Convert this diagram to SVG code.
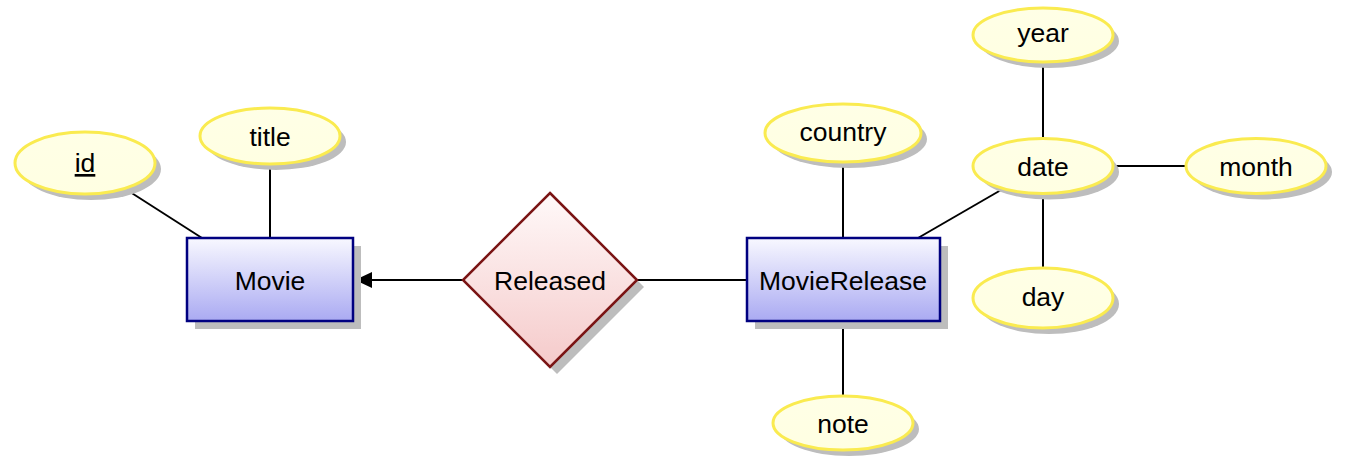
<svg xmlns="http://www.w3.org/2000/svg" width="1368" height="474" viewBox="0 0 1368 474">
<defs>
<linearGradient id="gEnt" x1="0" y1="0" x2="0" y2="1"><stop offset="0" stop-color="#F8F8FF"/><stop offset="1" stop-color="#AAAAF2"/></linearGradient>
<linearGradient id="gRel" x1="0" y1="0" x2="0" y2="1"><stop offset="0" stop-color="#FFF9F9"/><stop offset="1" stop-color="#F5CACA"/></linearGradient>
<linearGradient id="gAtt" x1="0" y1="0" x2="0" y2="1"><stop offset="0" stop-color="#FFFFE6"/><stop offset="1" stop-color="#FFFFE2"/></linearGradient>
<marker id="arr" viewBox="0 0 17 16" refX="17" refY="8" markerWidth="17" markerHeight="16" markerUnits="userSpaceOnUse" orient="auto"><path d="M0,0 L17,8 L0,16 Z" fill="#000"/></marker>
</defs>
<style>
.sh{fill:#BDBDBD}
.ent{fill:url(#gEnt);stroke:#000080;stroke-width:2.5}
.rel{fill:url(#gRel);stroke:#7A1414;stroke-width:2.5}
.att{fill:url(#gAtt);stroke:#FAEB50;stroke-width:3}
.t{font-family:"Liberation Sans",Arial,Helvetica,sans-serif;font-size:26.5px;fill:#000;text-anchor:middle}
.c line{stroke:#000;stroke-width:2}
</style>
<rect width="1368" height="474" fill="#fff"/>
<g class="c" id="connectors">
<line x1="127" y1="190" x2="202" y2="238"/>
<line x1="270" y1="164" x2="270" y2="238"/>
<line x1="463" y1="280" x2="355" y2="280" marker-end="url(#arr)"/>
<line x1="637" y1="280" x2="747" y2="280"/>
<line x1="843" y1="162" x2="843" y2="238"/>
<line x1="843" y1="322" x2="843" y2="396"/>
<line x1="1001" y1="190" x2="918" y2="238"/>
<line x1="1043" y1="63" x2="1043" y2="138"/>
<line x1="1113" y1="166" x2="1186" y2="166"/>
<line x1="1043" y1="194" x2="1043" y2="268"/>
</g>
<g id="movie">
<rect class="sh" x="195" y="246" width="166" height="83"/>
<rect class="ent" x="187" y="238" width="166" height="83"/>
<text class="t" x="270" y="290">Movie</text>
</g>
<g id="released">
<path class="sh" d="M557,200 L644,287 L557,374 L470,287 Z"/>
<path class="rel" d="M550,193 L637,280 L550,367 L463,280 Z"/>
<text class="t" x="550" y="290">Released</text>
</g>
<g id="movierelease">
<rect class="sh" x="755" y="246" width="193" height="83"/>
<rect class="ent" x="747" y="238" width="193" height="83"/>
<text class="t" x="843" y="290">MovieRelease</text>
</g>
<g id="attr-id">
<ellipse class="sh" cx="91" cy="169" rx="70" ry="31"/>
<ellipse class="att" cx="85" cy="163" rx="70" ry="31"/>
<text class="t" x="85" y="172" text-decoration="underline">id</text>
</g>
<g id="attr-title">
<ellipse class="sh" cx="276" cy="142" rx="70" ry="28"/>
<ellipse class="att" cx="270" cy="136" rx="70" ry="28"/>
<text class="t" x="270" y="146">title</text>
</g>
<g id="attr-country">
<ellipse class="sh" cx="849" cy="139" rx="78" ry="29"/>
<ellipse class="att" cx="843" cy="133" rx="78" ry="29"/>
<text class="t" x="843" y="141">country</text>
</g>
<g id="attr-note">
<ellipse class="sh" cx="849" cy="429" rx="70" ry="27"/>
<ellipse class="att" cx="843" cy="423" rx="70" ry="27"/>
<text class="t" x="843" y="433">note</text>
</g>
<g id="attr-year">
<ellipse class="sh" cx="1049" cy="41" rx="70" ry="27"/>
<ellipse class="att" cx="1043" cy="35" rx="70" ry="27"/>
<text class="t" x="1043" y="42">year</text>
</g>
<g id="attr-date">
<ellipse class="sh" cx="1049" cy="172" rx="70" ry="27.5"/>
<ellipse class="att" cx="1043" cy="166" rx="70" ry="27.5"/>
<text class="t" x="1043" y="176">date</text>
</g>
<g id="attr-month">
<ellipse class="sh" cx="1262" cy="172" rx="70" ry="27.5"/>
<ellipse class="att" cx="1256" cy="166" rx="70" ry="27.5"/>
<text class="t" x="1256" y="176">month</text>
</g>
<g id="attr-day">
<ellipse class="sh" cx="1049" cy="304" rx="70" ry="30"/>
<ellipse class="att" cx="1043" cy="298" rx="70" ry="30"/>
<text class="t" x="1043" y="306">day</text>
</g>
</svg>
